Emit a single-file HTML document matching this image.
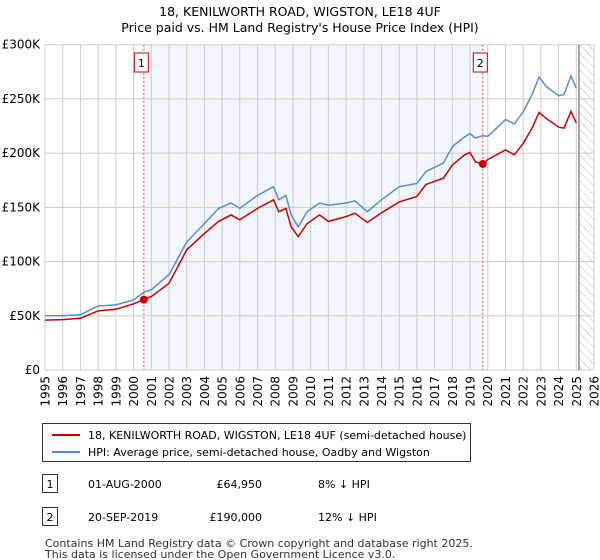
<!DOCTYPE html>
<html><head><meta charset="utf-8">
<style>
body{margin:0;background:#fff;font-family:"Liberation Sans","DejaVu Sans",sans-serif;}
#wrap{position:relative;width:600px;height:560px;overflow:hidden;}
svg text{font-family:"DejaVu Sans","Liberation Sans",sans-serif;}
</style></head>
<body><div id="wrap">
<svg id="chart" width="600" height="560"></svg>
</div>
<script>
const hpiYears=[1995,1996,1997,1998,1999,2000,2000.6,2001,2002,2003,2004,2004.8,2005.5,2006,2007,2007.9,2008.2,2008.6,2008.9,2009.3,2009.8,2010.5,2011,2012,2012.5,2013.2,2014,2015,2016,2016.5,2017.5,2018,2018.7,2019,2019.3,2019.7,2020,2020.5,2021,2021.5,2022,2022.5,2022.9,2023.3,2024,2024.3,2024.7,2025];
const hpiValues=[50,50,51,59,60,64.6,72,74,88,118,135,149,154,149,161,169,157,161,143,132,146,154,152,154,156,146,157,169,172,183,191,206,215,218,214,216,215.5,223,231,227,238,254,270,261.5,253,254,271,260];
const paidYears=[1995,1996,1997,1998,1999,2000,2000.58,2001,2002,2003,2004,2004.8,2005.5,2006,2007,2007.9,2008.2,2008.6,2008.9,2009.3,2009.8,2010.5,2011,2012,2012.5,2013.2,2014,2015,2016,2016.5,2017.5,2018,2018.7,2019,2019.3,2019.72,2020,2020.5,2021,2021.5,2022,2022.5,2022.9,2023.3,2024,2024.3,2024.7,2025];
const paidValues=[46,46.5,47.7,54.5,56,61,64.95,67.7,80,110.8,126,137,143,138.5,149,157,146,149,132,123,135,143,137,141.5,144.6,136,145,155,160,171,177,189,198.5,200.6,192,190,194,198.5,203,198.5,209,223,237.5,232,224,223,238.5,227.7];
const saleYears=[2000.58,2019.72];
const saleValues=[64.95,190];
const saleLabels=["1","2"];
const yTicks=[0,50,100,150,200,250,300];
const yTickLabels=["£0","£50K","£100K","£150K","£200K","£250K","£300K"];
const xTicks=[1995,1996,1997,1998,1999,2000,2001,2002,2003,2004,2005,2006,2007,2008,2009,2010,2011,2012,2013,2014,2015,2016,2017,2018,2019,2020,2021,2022,2023,2024,2025,2026];

const X0=45,X1=594,Y0=370,Y1=44.7;
const xs=y=>X0+(y-1995)*(X1-X0)/31;
const ys=v=>Y0-v*(Y0-Y1)/300;
const NS="http://www.w3.org/2000/svg";
const svg=document.getElementById('chart');
function mk(t,a,p){const e=document.createElementNS(NS,t);for(const k in a)e.setAttribute(k,a[k]);(p||svg).appendChild(e);return e;}

let t=mk('text',{x:300,y:16,'text-anchor':'middle','font-size':12.5});t.textContent="18, KENILWORTH ROAD, WIGSTON, LE18 4UF";


t=mk('text',{x:300,y:32,'text-anchor':'middle','font-size':12.5});t.textContent="Price paid vs. HM Land Registry's House Price Index (HPI)";



let r=mk('rect',{x:xs(saleYears[0]),y:Y1,width:xs(saleYears[1])-xs(saleYears[0]),height:Y0-Y1,fill:'#eef2fb',opacity:0.7});


const defs=mk('defs',{});
const pat=mk('pattern',{id:'hatch',width:6,height:6,patternUnits:'userSpaceOnUse',patternTransform:'rotate(-45)'},defs);
mk('line',{x1:0,y1:0,x2:0,y2:6,stroke:'#bbb','stroke-width':1},pat);
r=mk('rect',{x:xs(2025.15),y:Y1,width:X1-xs(2025.15),height:Y0-Y1,fill:'url(#hatch)'});



xTicks.forEach(y=>{let l=mk('line',{x1:xs(y),x2:xs(y),y1:Y1,y2:Y0,stroke:'#ccc','stroke-width':1});


const tx0=xs(y)+4.5,ty0=Y0+6;
let tx=mk('text',{x:tx0,y:ty0,'text-anchor':'end','font-size':12,transform:'rotate(-90 '+tx0+' '+ty0+')'});tx.textContent=y;

});
yTicks.forEach((v,i)=>{let l=mk('line',{x1:X0,x2:X1,y1:ys(v),y2:ys(v),stroke:'#ccc','stroke-width':1});


let tx=mk('text',{x:X0-5,y:ys(v)+4,'text-anchor':'end','font-size':12});tx.textContent=yTickLabels[i];

});
let l=mk('line',{x1:xs(2025.15),x2:xs(2025.15),y1:Y1,y2:Y0,stroke:'#888','stroke-width':1.5});



saleYears.forEach((y,i)=>{let d=mk('line',{x1:xs(y),x2:xs(y),y1:Y1,y2:Y0,stroke:'#e05050','stroke-width':1,'stroke-dasharray':'2,2'});


let b=mk('rect',{x:xs(y)-9.5,y:53,width:14,height:19,fill:'#fff',stroke:'#c00','stroke-width':1});


let tx=mk('text',{x:xs(y)-2.5,y:67,'text-anchor':'middle','font-size':11});tx.textContent=saleLabels[i];

});

function path(xa,va){return xa.map((y,i)=>(i?'L':'M')+xs(y).toFixed(1)+','+ys(va[i]).toFixed(1)).join('');}
let p=mk('path',{d:path(hpiYears,hpiValues),fill:'none',stroke:'#5b8bd0','stroke-width':1.5});


p=mk('path',{d:path(paidYears,paidValues),fill:'none',stroke:'#cc0000','stroke-width':1.5});


saleYears.forEach((y,i)=>{let c=mk('circle',{cx:xs(y),cy:ys(saleValues[i]),r:4,fill:'#cc0000'});

});

let g=mk('rect',{x:42.5,y:423.5,width:428,height:38,fill:'#fff',stroke:'#333','stroke-width':1});


l=mk('line',{x1:52,x2:80,y1:435,y2:435,stroke:'#cc0000','stroke-width':2});


t=mk('text',{x:88,y:439,'font-size':11});t.textContent="18, KENILWORTH ROAD, WIGSTON, LE18 4UF (semi-detached house)";


l=mk('line',{x1:52,x2:80,y1:452,y2:452,stroke:'#5b8bd0','stroke-width':2});


t=mk('text',{x:88,y:456,'font-size':11});t.textContent="HPI: Average price, semi-detached house, Oadby and Wigston";



const rows=[["1","01-AUG-2000","£64,950","8% ↓ HPI",487],["2","20-SEP-2019","£190,000","12% ↓ HPI",520]];
rows.forEach(rw=>{let b=mk('rect',{x:42.5,y:rw[4]-12.5,width:15,height:18,fill:'#fff',stroke:'#333'});


let a=mk('text',{x:50,y:rw[4]+1,'text-anchor':'middle','font-size':11});a.textContent=rw[0];


a=mk('text',{x:88,y:rw[4]+1,'font-size':11});a.textContent=rw[1];


a=mk('text',{x:262,y:rw[4]+1,'text-anchor':'end','font-size':11});a.textContent=rw[2];


a=mk('text',{x:318,y:rw[4]+1,'font-size':11});a.textContent=rw[3];

});
t=mk('text',{x:45,y:547,'font-size':11,fill:'#333'});t.textContent="Contains HM Land Registry data © Crown copyright and database right 2025.";


t=mk('text',{x:45,y:558,'font-size':11,fill:'#333'});t.textContent="This data is licensed under the Open Government Licence v3.0.";


</script>
</body></html>
